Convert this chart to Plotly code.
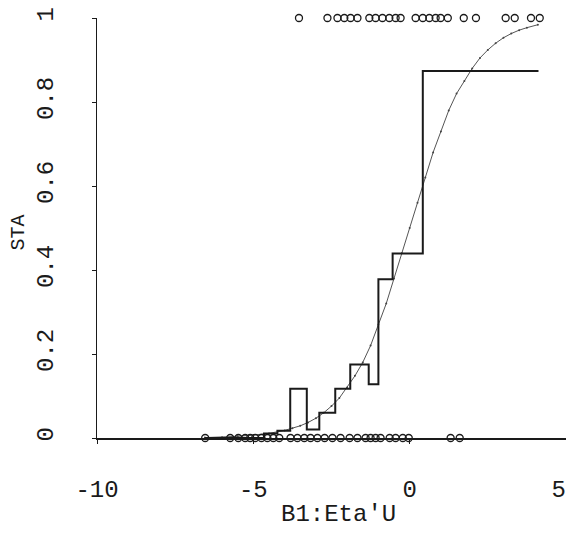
import plotly.graph_objects as go

# ---- data ----
x_ticks = [-10, -5, 0, 5]
x_tick_labels = ["-10", "-5", "0", "5\u00a0"]
y_ticks = [0, 0.2, 0.4, 0.6, 0.8, 1]
y_tick_labels = ["0", "0.2", "0.4", "0.6", "0.8", "1"]

# observations with STA = 1 (top row of circles)
eta_sta1 = [-3.54, -2.63, -2.31, -2.09, -1.89, -1.67, -1.29, -1.09, -0.87, -0.65,
            -0.45, -0.29, 0.19, 0.42, 0.63, 0.83, 0.99, 1.22, 1.73, 2.12,
            3.07, 3.36, 3.88, 4.16]
sta1 = [1] * len(eta_sta1)

# observations with STA = 0 (bottom row of circles)
eta_sta0 = [-6.54, -5.74, -5.48, -5.26, -5.10, -4.94, -4.74, -4.55, -4.36, -4.17,
            -3.81, -3.59, -3.37, -3.17, -2.95, -2.72, -2.47, -2.21, -1.92, -1.67,
            -1.41, -1.25, -1.09, -0.93, -0.64, -0.45, -0.22, -0.03, 1.31, 1.60]
sta0 = [0] * len(eta_sta0)

# fitted probability curve
curve_x = [-6.55, -6.0, -5.5, -5.0, -4.5, -4.0, -3.75, -3.5, -3.25, -3.0, -2.75,
           -2.5, -2.25, -2.0, -1.75, -1.5, -1.25, -1.0, -0.75, -0.5, -0.25, 0.0,
           0.25, 0.5, 0.75, 1.0, 1.25, 1.5, 1.75, 2.0, 2.25, 2.5, 2.75, 3.0,
           3.25, 3.5, 3.75, 4.1]
curve_y = [0.001, 0.002, 0.004, 0.007, 0.011, 0.018, 0.023, 0.029, 0.037, 0.047, 0.06,
           0.076, 0.095, 0.12, 0.148, 0.18, 0.22, 0.27, 0.32, 0.38, 0.44, 0.50,
           0.56, 0.62, 0.68, 0.73, 0.78, 0.82, 0.85, 0.88, 0.905, 0.924, 0.94, 0.953,
           0.963, 0.971, 0.977, 0.984]

# observed proportion per group (step function)
step_x = [-6.55, -4.66, -4.23, -3.82, -3.29, -2.89, -2.38, -1.90, -1.31, -1.00, -0.545, 0.42, 4.12]
step_y = [0.0, 0.011, 0.017, 0.117, 0.02, 0.06, 0.117, 0.175, 0.128, 0.378, 0.439, 0.874, 0.874]

FONT = "Liberation Mono, Courier New, monospace"
INK = "#1a1a1a"

fig = go.Figure()

fig.add_trace(go.Scatter(
    x=curve_x, y=curve_y, mode="lines+markers",
    line=dict(color="#555555", width=1),
    marker=dict(size=2, color="#444444"),
    cliponaxis=False, showlegend=False, hoverinfo="skip"))

fig.add_trace(go.Scatter(
    x=step_x, y=step_y, mode="lines", line_shape="hv",
    line=dict(color=INK, width=2),
    cliponaxis=False, showlegend=False))

fig.add_trace(go.Scatter(
    x=eta_sta1, y=sta1, mode="markers",
    marker=dict(symbol="circle-open", size=7, color=INK, line=dict(width=1.3)),
    cliponaxis=False, showlegend=False))

fig.add_trace(go.Scatter(
    x=eta_sta0, y=sta0, mode="markers",
    marker=dict(symbol="circle-open", size=7, color=INK, line=dict(width=1.3)),
    cliponaxis=False, showlegend=False))

# page body has an 8px margin, so the figure is sized to fit inside the window
fig.update_layout(
    width=566, height=525,
    margin=dict(l=89, r=8, t=10, b=95, autoexpand=False),
    paper_bgcolor="white", plot_bgcolor="white",
    font=dict(family=FONT, size=24, color=INK),
    xaxis=dict(range=[-10, 5], tickvals=x_ticks, ticktext=x_tick_labels,
               showgrid=False, zeroline=False, showline=True, linecolor=INK,
               linewidth=1.5, ticks="outside", ticklen=4, tickcolor=INK,
               ticklabelstandoff=24, automargin=False, ticklabeloverflow="allow"),
    yaxis=dict(range=[0, 1], tickvals=y_ticks, ticktext=y_tick_labels,
               showgrid=False, zeroline=False, showline=True, linecolor=INK,
               linewidth=1, ticks="outside", ticklen=4, tickcolor=INK,
               tickangle=-90, ticklabelstandoff=29, automargin=False,
               ticklabeloverflow="allow"),
    annotations=[
        dict(text="B1:Eta'U", xref="paper", yref="paper", x=0.515, y=-0.183,
             xanchor="center", yanchor="middle", showarrow=False,
             font=dict(family=FONT, size=24, color=INK)),
        dict(text="STA", xref="paper", yref="paper", x=-0.168, y=0.49,
             xanchor="center", yanchor="middle", textangle=-90, showarrow=False,
             font=dict(family=FONT, size=20, color=INK)),
    ],
)

fig.write_html("out.html")
